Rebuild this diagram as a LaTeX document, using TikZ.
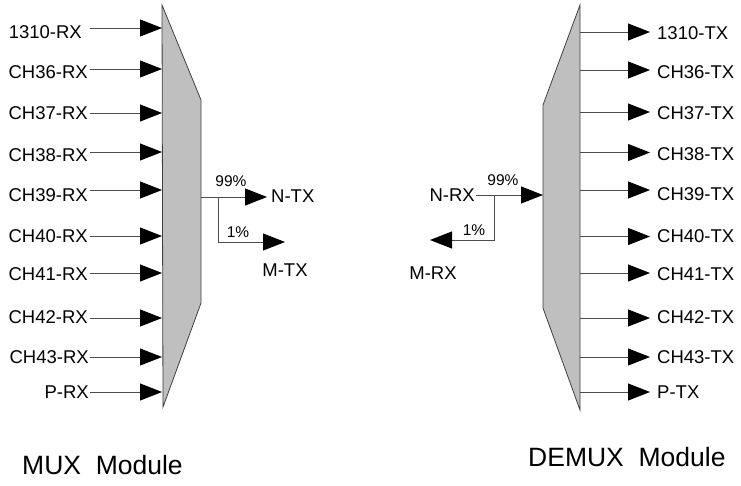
\documentclass[tikz,border=0pt]{standalone}
\usepackage{fontspec}
\setmainfont{Liberation Sans}
\usetikzlibrary{arrows.meta}
\begin{document}
\begin{tikzpicture}[x=1pt,y=-1pt,
  lbl/.style={font=\fontsize{18.5}{20}\selectfont, inner sep=1pt},
  pct/.style={font=\fontsize{15.5}{16}\selectfont, inner sep=0pt},
  ttl/.style={font=\fontsize{26.5}{28}\selectfont, inner sep=0pt},
  wire/.style={draw=black!70, line width=0.9pt},
  arr/.style={wire, -{Triangle[length=22pt,width=17pt,color=black]}},
  block/.style={fill=black!25, draw=black!75, line width=0.8pt}]
\useasboundingbox (0,0) rectangle (741,485);
% MUX block
\draw[block] (162,5) -- (201,100) -- (201,303) -- (163,407) -- cycle;
\foreach \i/\t/\y/\ty/\xr in {1/1310-RX/28/32/83, 2/CH36-RX/69/72/89, 3/CH37-RX/113/113/89, 4/CH38-RX/152/155/89, 5/CH39-RX/190/195/89, 6/CH40-RX/236/236/89, 7/CH41-RX/273/274/89, 8/CH42-RX/318/317.5/89, 9/CH43-RX/357/357.5/90, 10/P-RX/392/392/90} {
  \coordinate (in\i) at (162,\y);
  \coordinate (st\i) at (90,\y);
  \node[lbl, anchor=east] (rx\i) at (\xr,\ty) {\t};
  \draw[arr] (st\i) -- (in\i);
}
% MUX outputs
\coordinate (mo) at (201,197);
\coordinate (split) at (218,197);
\coordinate (ntip) at (267,197);
\coordinate (mtip) at (285,242);
\node[lbl, anchor=west] (ntx) at (270,196) {N-TX};
\draw[arr] (mo) -- (ntip);
\draw[arr] (split) |- (mtip);
\node[pct] (p99a) at (231,181) {99\%};
\node[pct] (p1a) at (238,232) {1\%};
\node[lbl] (mtx) at (285,270) {M-TX};
% DEMUX block
\draw[block] (580,5) -- (543,105) -- (543,308) -- (580,410) -- cycle;
\foreach \i/\t/\y/\ty in {1/1310-TX/32/33, 2/CH36-TX/70/72.5, 3/CH37-TX/112/113, 4/CH38-TX/152.5/154, 5/CH39-TX/190/194, 6/CH40-TX/236.5/236, 7/CH41-TX/273/274, 8/CH42-TX/318/317.5, 9/CH43-TX/357/357.5, 10/P-TX/392/392} {
  \coordinate (out\i) at (580,\y);
  \coordinate (tip\i) at (650,\y);
  \node[lbl, anchor=west] (tx\i) at (656,\ty) {\t};
  \draw[arr] (out\i) -- (tip\i);
}
% DEMUX inputs
\node[lbl, anchor=east] (nrx) at (476,195) {N-RX};
\coordinate (di) at (543,195);
\coordinate (dsplit) at (494,195);
\coordinate (mrtip) at (430,240);
\draw[arr] (nrx.east) -- (di);
\draw[arr] (dsplit) |- (mrtip);
\node[pct] (p99b) at (503,180) {99\%};
\node[pct] (p1b) at (474,230) {1\%};
\node[lbl] (mrx) at (433,273) {M-RX};
% titles
\node[ttl, anchor=west] (muxt) at (22,465) {MUX\ \ Module};
\node[ttl, anchor=west] (demuxt) at (528,457) {DEMUX\ \ Module};
\end{tikzpicture}
\end{document}
